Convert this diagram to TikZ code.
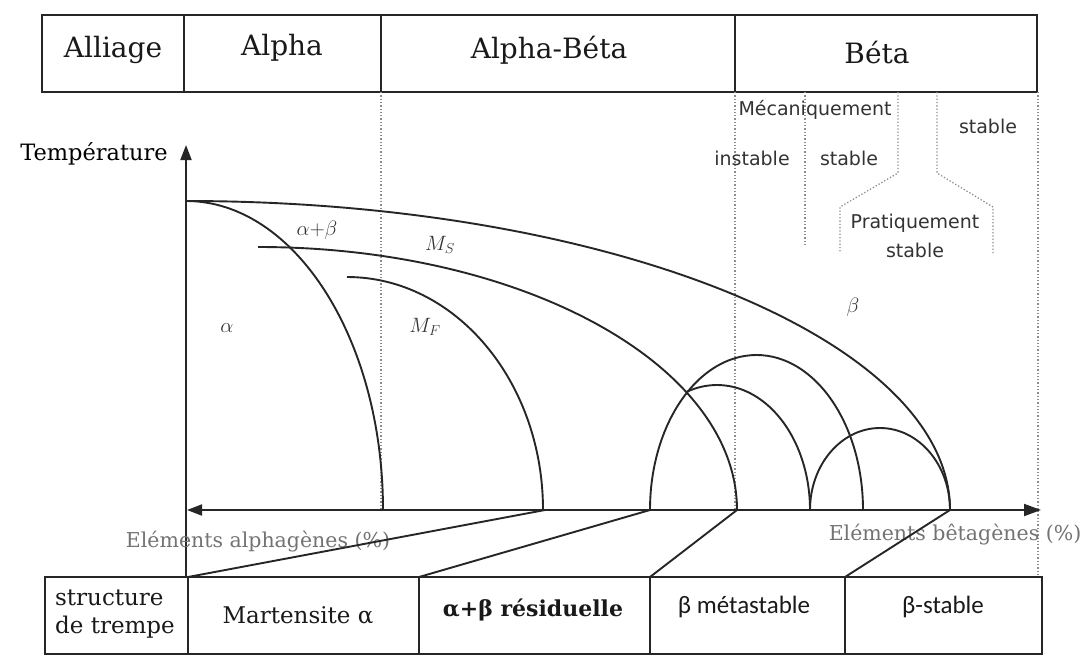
\documentclass[tikz,border=0pt]{standalone}
\usepackage{fontspec}
\setmainfont{DejaVu Serif}
\newfontfamily\dvsans{DejaVu Sans}
\newfontfamily\calib{Carlito}
\usetikzlibrary{arrows.meta}
\begin{document}
\begin{tikzpicture}[x=1pt,y=1pt,
  box/.style={draw=black!85, line width=2.2pt},
  curve/.style={draw=black!85, line width=1.9pt},
  guide/.style={draw=black!45, line width=1.3pt, dotted},
  hdr/.style={font=\fontsize{28}{30}\selectfont, text=black!90, inner sep=0pt},
  reg/.style={font=\dvsans\fontsize{19}{22}\selectfont, text=black!80, inner sep=0pt},
  lab/.style={font=\fontsize{20}{24}\selectfont, text=black!80, inner sep=0pt},
  axl/.style={font=\fontsize{20.5}{24}\selectfont, text=black!55, inner sep=0pt},
  cell/.style={font=\fontsize{23}{27}\selectfont, text=black!90, inner sep=0pt},
  ccell/.style={font=\calib\fontsize{25}{29}\selectfont, text=black!90, inner sep=0pt}
]
\useasboundingbox (0,0) rectangle (1086,-659);

% ---------- header ----------
\draw[box] (42,-15) rectangle (1037,-92);
\draw[box] (184,-15) -- (184,-92);
\draw[box] (381,-15) -- (381,-92);
\draw[box] (735,-15) -- (735,-92);
\node[hdr] (hA) at (113,-50) {Alliage};
\node[hdr] (hB) at (282,-48) {Alpha};
\node[hdr] (hC) at (549,-50) {Alpha-Béta};
\node[hdr] (hD) at (877,-52) {Béta};

% ---------- dotted guides ----------
\draw[guide] (381,-92) -- (381,-510);
\draw[guide] (735,-92) -- (735,-510);
\draw[guide] (1038,-92) -- (1038,-574);
\draw[guide] (805,-92) -- (805,-247);
\draw[guide] (898,-92) -- (898,-173) -- (840,-207) -- (840,-253);
\draw[guide] (937,-92) -- (937,-173) -- (993,-207) -- (993,-255);

\node[reg] (r1) at (815,-110) {Mécaniquement};
\node[reg] (r2) at (752,-158) {instable};
\node[reg] (r3) at (849,-158) {stable};
\node[reg] (r4) at (988,-126) {stable};
\node[reg] (r5) at (915,-223) {Pratiquement};
\node[reg] (r6) at (915,-250) {stable};

% ---------- axes ----------
\coordinate (vbot) at (186,-577);
\coordinate (vtop) at (186,-145);
\coordinate (xl) at (187,-510);
\coordinate (xr) at (1041,-510);
\draw[curve, -{Triangle[length=15pt,width=11pt]}] (vbot) -- (vtop);
\draw[curve, {Triangle[length=15pt,width=11pt]}-{Triangle[length=17pt,width=12pt]}] (xl) -- (xr);
\node[font=\fontsize{22.5}{26}\selectfont, inner sep=0pt] (temp) at (94,-154) {Température};
\node[axl] (xa) at (258,-542) {Eléments alphagènes (\%)};
\node[axl] (xb) at (955,-535) {Eléments bêtagènes (\%)};

% ---------- curves ----------
\draw[curve] (186,-201) arc[start angle=90, end angle=0, x radius=764pt, y radius=309pt];
\draw[curve] (186,-201) arc[start angle=90, end angle=0, x radius=197pt, y radius=309pt];
\draw[curve] (258,-247) arc[start angle=90, end angle=0, x radius=479pt, y radius=263pt];
\draw[curve] (347,-277) arc[start angle=90, end angle=0, x radius=196pt, y radius=233pt];
% domes
\draw[curve] (650,-510) arc[start angle=180, end angle=0, x radius=106.5pt, y radius=155pt];
\draw[curve] ([shift={(108.8:93pt and 125pt)}]717,-510) arc[start angle=108.8, end angle=0, x radius=93pt, y radius=125pt];
\draw[curve] (810,-510) arc[start angle=180, end angle=0, x radius=70pt, y radius=82pt];

% curve labels
\node[lab] (la) at (227,-328) {$\alpha$};
\node[lab] (lab2) at (317,-230) {$\alpha{+}\beta$};
\node[lab] (lms) at (440,-245) {$M_S$};
\node[lab] (lmf) at (425,-327) {$M_F$};
\node[lab] (lb) at (853,-307) {$\beta$};

% ---------- bottom ----------
\coordinate (b0) at (188,-577);
\coordinate (b1) at (419,-577);
\coordinate (b2) at (650,-577);
\coordinate (b3) at (845,-577);
\coordinate (a0) at (545,-510);
\coordinate (a1) at (650,-510);
\coordinate (a2) at (737,-510);
\coordinate (a3) at (950,-510);
\draw[curve] (b0) -- (a0);
\draw[curve] (b1) -- (a1);
\draw[curve] (b2) -- (a2);
\draw[curve] (b3) -- (a3);

\draw[box] (45,-577) rectangle (1042,-654);
\draw[box] (b0) -- (188,-654);
\draw[box] (b1) -- (419,-654);
\draw[box] (b2) -- (650,-654);
\draw[box] (b3) -- (845,-654);

\node[cell, align=left, anchor=west] (st) at (55,-614) {structure\\[1pt]de trempe};
\node[cell] (mart) at (298,-615) {Martensite α};
\node[cell, font=\bfseries\fontsize{22}{26}\selectfont] (res) at (533,-610) {α+β résiduelle};
\node[ccell] (meta) at (744,-607) {β métastable};
\node[ccell] (bst) at (943,-607) {β-stable};
\end{tikzpicture}
\end{document}
